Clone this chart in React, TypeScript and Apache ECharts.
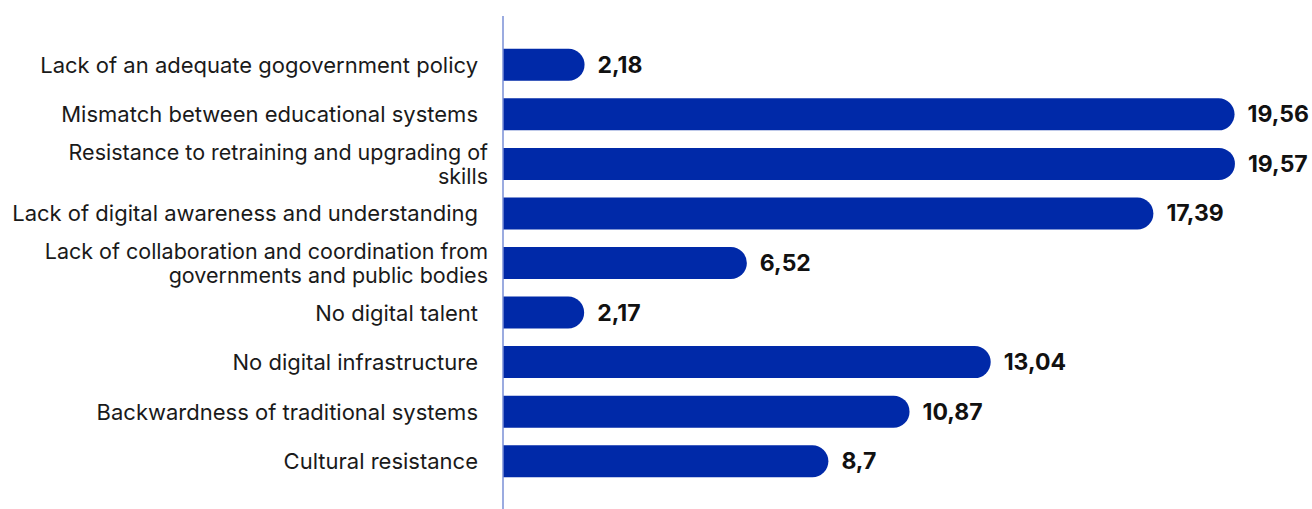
import React, { useEffect, useRef } from "react";
import * as echarts from "echarts";

const categories = [
  "Lack of an adequate gogovernment policy",
  "Mismatch between educational systems",
  "Resistance to retraining and upgrading of\nskills",
  "Lack of digital awareness and understanding",
  "Lack of collaboration and coordination from\ngovernments and public bodies",
  "No digital talent",
  "No digital infrastructure",
  "Backwardness of traditional systems",
  "Cultural resistance",
];
const values = [2.18, 19.56, 19.57, 17.39, 6.52, 2.17, 13.04, 10.87, 8.7];

const BAR = "#0029a8";
const AXIS = "#7a8fd6";
const FONT = "Inter, 'Noto Sans', sans-serif";

export default function App() {
  const ref = useRef<HTMLDivElement>(null);
  useEffect(() => {
    document.body.style.margin = "0";
    const chart = echarts.init(ref.current!, undefined, { renderer: "svg" });
    chart.setOption({
      animation: false,
      grid: { left: 503, right: 61, top: 40, bottom: 23, containLabel: false },
      xAxis: {
        type: "value",
        min: 0,
        max: 20,
        show: false,
      },
      yAxis: {
        type: "category",
        inverse: true,
        data: categories,
        axisLine: { show: false },
        axisTick: { show: false },
        splitLine: { show: false },
        axisLabel: {
          margin: 15,
          fontFamily: FONT,
          fontSize: 21.5,
          color: "#1a1a1a",
          lineHeight: 24,
          align: "right",
          formatter: (v: string) => (v.indexOf("\n") >= 0 ? v : `{s|${v}}`),
          rich: {
            s: {
              fontFamily: FONT,
              fontSize: 22,
              color: "#1a1a1a",
              padding: [0, 10, 0, 0],
            },
          },
        },
      },
      series: [
        {
          type: "bar",
          data: values,
          barWidth: 32,
          itemStyle: { color: BAR, borderRadius: [0, 16, 16, 0] },
          label: {
            show: true,
            position: "right",
            distance: 13,
            fontFamily: FONT,
            fontSize: 23,
            fontWeight: "bold",
            color: "#111111",
            formatter: (p: any) => String(p.value).replace(".", ","),
          },
        },
      ],
    });
    const x0 = chart.convertToPixel({ xAxisIndex: 0 }, 0) as number;
    chart.setOption({
      graphic: [
        {
          type: "line",
          shape: { x1: x0, y1: 16, x2: x0, y2: 509 },
          style: { stroke: AXIS, lineWidth: 1.5 },
          z: 10,
        },
      ],
    });
    return () => chart.dispose();
  }, []);
  return <div ref={ref} style={{ width: 1312, height: 509 }} />;
}
